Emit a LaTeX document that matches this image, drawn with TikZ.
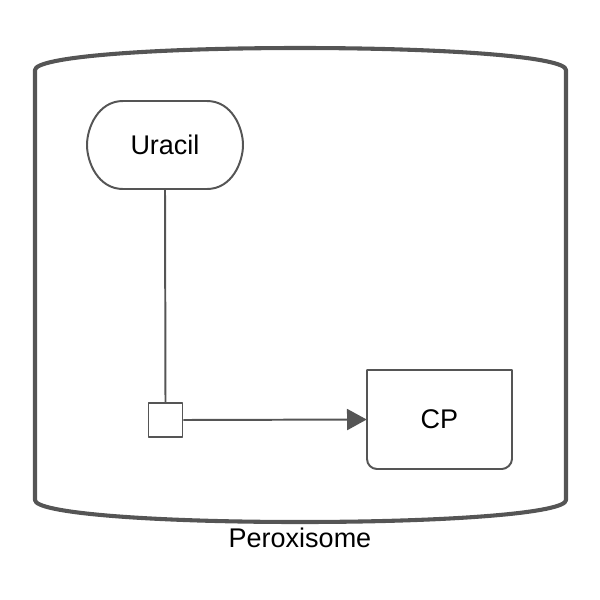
\documentclass[tikz,border=0pt]{standalone}
\usepackage{fontspec}
\setmainfont{Liberation Sans}
\usetikzlibrary{arrows.meta}
\definecolor{linegray}{HTML}{555555}

\begin{document}
\begin{tikzpicture}[x=0.025cm, y=-0.025cm,
  every node/.style={font=\fontsize{19.2}{23}\selectfont, inner sep=0pt},
  glyph/.style={draw=linegray, line width=1.4pt, line join=round},
  compart/.style={draw=linegray, line width=2.9pt, line join=round},
  flow/.style={draw=linegray, line width=1.4pt, -{Triangle[length=14pt, width=15pt]}, fill=linegray}]
  \useasboundingbox (0,0) rectangle (600,600);
  % compartment
  \draw[compart] (35,70) .. controls (35,57) and (150,48) .. (300,48) .. controls (450,48) and (566,57) .. (566,70)
    -- (566,500) .. controls (566,513) and (450,522) .. (300,522) .. controls (150,522) and (35,513) .. (35,500) -- cycle;
  \node (peroxlabel) at (300,538) {Peroxisome};
  % glyphs
  \draw[glyph] (207,101) .. controls (232,101) and (243,128) .. (243,145) .. controls (243,162) and (232,189) .. (207,189)
    -- (123,189) .. controls (98,189) and (87,162) .. (87,145) .. controls (87,128) and (98,101) .. (123,101) -- cycle;
  \node[minimum width=3.9cm, minimum height=2.2cm] (uracil) at (165,145) {Uracil};
  \draw[glyph] (367,370) -- (512,370) -- (512,459) .. controls (512,464.5) and (506.5,469) .. (502,469)
    -- (377,469) .. controls (371.5,469) and (367,464.5) .. (367,459) -- cycle;
  \node[minimum width=3.625cm, minimum height=2.475cm] (cp) at (439.5,419.5) {CP};
  \node[glyph, minimum size=0.85cm] (proc) at (165.5,420) {};
  % arcs
  \draw[glyph] (uracil.south) -- (proc.north);
  \draw[flow] (proc.east) -- (cp.west);
\end{tikzpicture}
\end{document}
